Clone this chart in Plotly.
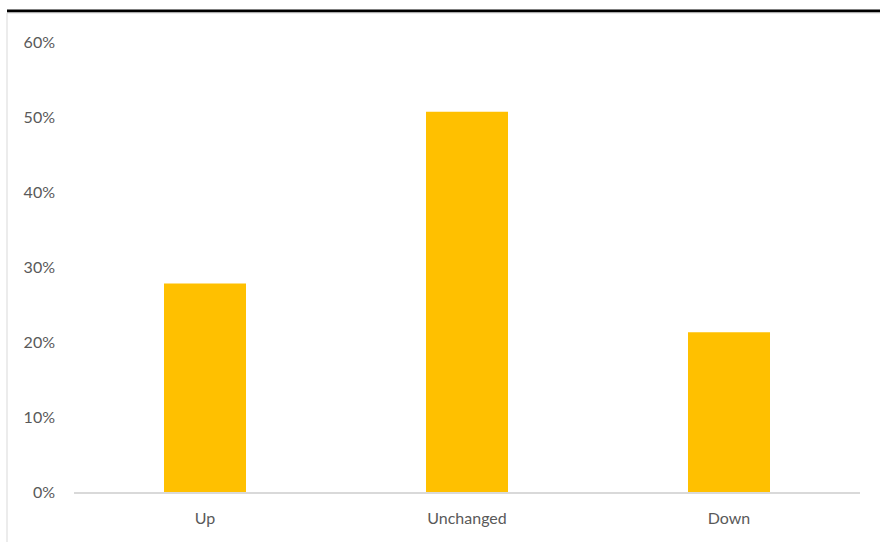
import plotly.graph_objects as go

categories = ["Up", "Unchanged", "Down"]
shares = [27.8, 50.7, 21.3]
y_ticks = [0, 10, 20, 30, 40, 50, 60]
y_tick_labels = [f"{v}%" for v in y_ticks]

fig = go.Figure(
    go.Bar(
        x=categories,
        y=shares,
        marker=dict(color="#FFC000", line=dict(width=0)),
        width=0.313,
        hoverinfo="x+y",
    )
)

fig.update_layout(
    width=880,
    height=542,
    margin=dict(l=74, r=20, t=42, b=50),
    paper_bgcolor="white",
    plot_bgcolor="white",
    showlegend=False,
    font=dict(family="Lato, Open Sans, sans-serif", size=16, color="#595959"),
    xaxis=dict(
        showgrid=False,
        showline=True,
        linecolor="#D9D9D9",
        linewidth=1.5,
        ticks="",
        ticklabelstandoff=11,
        tickfont=dict(size=16, color="#595959"),
    ),
    yaxis=dict(
        range=[0, 60],
        tickvals=y_ticks,
        ticktext=y_tick_labels,
        showgrid=False,
        zeroline=False,
        showline=False,
        ticks="",
        ticklabelstandoff=18,
        tickfont=dict(size=16, color="#595959"),
    ),
    shapes=[
        # heavy rule above the chart frame
        dict(type="line", xref="paper", yref="paper",
             x0=-67 / 786, x1=1 + 20 / 786, y0=1 + 31 / 450, y1=1 + 31 / 450,
             line=dict(color="black", width=3)),
        # chart frame edges
        dict(type="line", xref="paper", yref="paper",
             x0=-67 / 786, x1=1 + 20 / 786, y0=1 + 29 / 450, y1=1 + 29 / 450,
             line=dict(color="#D9D9D9", width=1)),
        dict(type="line", xref="paper", yref="paper",
             x0=-67 / 786, x1=-67 / 786, y0=-50 / 450, y1=1 + 29 / 450,
             line=dict(color="#D9D9D9", width=1)),
    ],
)

fig.write_html("out.html")
